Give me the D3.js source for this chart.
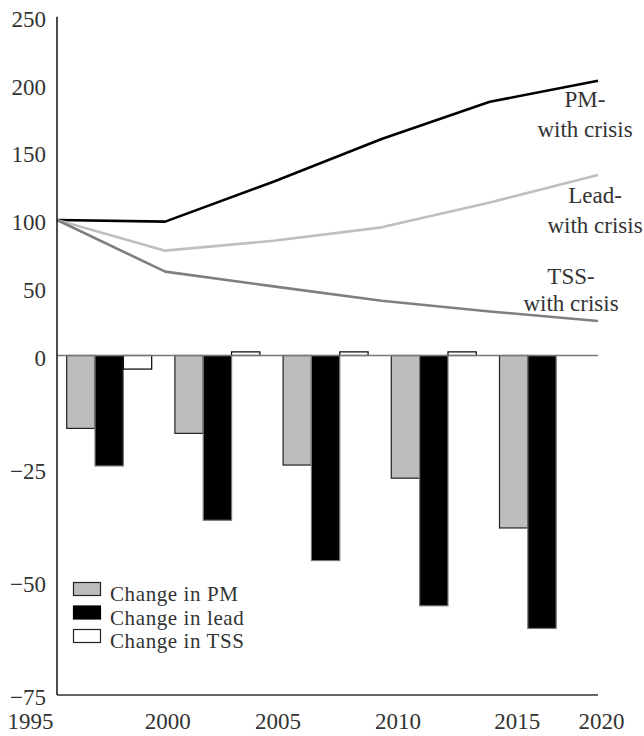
<!DOCTYPE html>
<html>
<head>
<meta charset="utf-8">
<script src="https://cdn.jsdelivr.net/npm/d3@7/dist/d3.min.js"></script>
<style>
  html, body { margin: 0; padding: 0; background: #fff; }
  svg { display: block; }
  text { font-family: "Liberation Serif", "DejaVu Serif", serif; fill: #333; }
</style>
</head>
<body>
<svg id="chart" width="644" height="736"></svg>
<script>
// ---- data ----
const years = [1995, 2000, 2005, 2010, 2015, 2020];
const pmWithCrisis   = [100, 98.8, 128.3, 159.8, 187.3, 202.8];
const leadWithCrisis = [100, 77.4, 84.7, 94.6, 113, 133.2];
const tssWithCrisis  = [100, 61.9, 51, 40.4, 32.5, 25.5];

const periods = [1995, 2000, 2005, 2010, 2015];
const changePM   = [-16.1, -17.2, -24.2, -27.1, -38.1];
const changeLead = [-24.4, -36.4, -45.3, -55.3, -60.3];
const changeTSS  = [-3.0, 0.8, 0.8, 0.8, 0];

const topTicks = [0, 50, 100, 150, 200, 250];
const bottomTicks = [-25, -50, -75];
const xTicks = [1995, 2000, 2005, 2010, 2015, 2020];

const lineLabels = [
  ["PM-", "with crisis"],
  ["Lead-", "with crisis"],
  ["TSS-", "with crisis"]
];
const legendLabels = ["Change in PM", "Change in lead", "Change in TSS"];

// ---- scales ----
const FONT = '"Liberation Serif", "DejaVu Serif", serif';
const svg = d3.select("#chart");
const x = d3.scaleLinear().domain([1995, 2020]).range([57, 598]);
const yTop = d3.scaleLinear().domain([0, 250]).range([355.5, 16.8]);
const yBot = d3.scaleLinear().domain([-75, 0]).range([695, 355.5]);

const x0 = d3.scaleBand().domain(periods).range([x(1995), x(2020)]).padding(0);
const seriesKeys = ["pm", "lead", "tss"];
const x1 = d3.scaleBand().domain(seriesKeys).range([9.7, 94.7]).padding(0);

const barStyles = {
  pm:   { fill: "#bdbdbd", stroke: "#222" },
  lead: { fill: "#000",    stroke: "#777" },
  tss:  { fill: "#fff",    stroke: "#000" }
};
const barData = [];
periods.forEach((p, i) => {
  barData.push({ p, k: "pm", v: changePM[i] });
  barData.push({ p, k: "lead", v: changeLead[i] });
  barData.push({ p, k: "tss", v: changeTSS[i] });
});

// ---- bars ----
svg.append("g").selectAll("rect")
  .data(barData.filter(d => d.v !== 0))
  .join("rect")
  .attr("x", d => x0(d.p) + x1(d.k))
  .attr("width", x1.bandwidth())
  .attr("y", d => Math.min(yBot(d.v), yBot(0)))
  .attr("height", d => Math.abs(yBot(d.v) - yBot(0)))
  .attr("fill", d => barStyles[d.k].fill)
  .attr("stroke", d => barStyles[d.k].stroke)
  .attr("stroke-width", 1.2);

// zero line
svg.append("line")
  .attr("x1", x(1995)).attr("x2", x(2020))
  .attr("y1", yTop(0)).attr("y2", yTop(0))
  .attr("stroke", "#777").attr("stroke-width", 1.5);

// ---- lines ----
const lineGen = arr => d3.line().x((d, i) => x(years[i])).y(d => yTop(d))(arr);
const lineSeries = [
  { vals: pmWithCrisis, color: "#000" },
  { vals: leadWithCrisis, color: "#bfbfbf" },
  { vals: tssWithCrisis, color: "#7f7f7f" }
];
svg.append("g").selectAll("path")
  .data(lineSeries)
  .join("path")
  .attr("d", d => lineGen(d.vals))
  .attr("fill", "none")
  .attr("stroke", d => d.color)
  .attr("stroke-width", 2.6)
  .attr("stroke-linejoin", "round");

// ---- axes ----
svg.append("line")
  .attr("x1", x(1995)).attr("x2", x(1995))
  .attr("y1", yTop(250)).attr("y2", yBot(-75))
  .attr("stroke", "#111").attr("stroke-width", 1.5);
svg.append("line")
  .attr("x1", x(1995)).attr("x2", x(2020))
  .attr("y1", yBot(-75)).attr("y2", yBot(-75))
  .attr("stroke", "#333").attr("stroke-width", 1.5);

const fmtMinus = v => v < 0 ? "\u2212" + Math.abs(v) : String(v);
const yAxisTop = d3.axisLeft(yTop).tickValues(topTicks).tickSize(0).tickPadding(11).tickFormat(fmtMinus);
const yAxisBot = d3.axisLeft(yBot).tickValues(bottomTicks).tickSize(0).tickPadding(11).tickFormat(fmtMinus);
const gTop = svg.append("g").attr("transform", `translate(${x(1995)},0)`).call(yAxisTop);
const gBot = svg.append("g").attr("transform", `translate(${x(1995)},0)`).call(yAxisBot);
[gTop, gBot].forEach(g => {
  g.attr("font-family", FONT).attr("font-size", 23);
  g.select(".domain").remove();
  g.selectAll("text")
    .style("font-family", FONT)
    .style("font-size", "23px")
    .attr("fill", "#333")
    .attr("dy", "0.42em");
});

// tick-label nudges to follow the reference's hand placement
const xLabelNudge = { 1995: -27, 2000: 2, 2005: 4, 2010: 16, 2015: 27, 2020: 3 };
const xAxis = d3.axisBottom(x).tickValues(xTicks).tickSize(0).tickPadding(18).tickFormat(d3.format("d"));
const gx = svg.append("g").attr("transform", `translate(0,${yBot(-75)})`).call(xAxis);
gx.attr("font-family", FONT).attr("font-size", 23);
gx.select(".domain").remove();
gx.selectAll("text")
  .style("font-family", FONT)
  .style("font-size", "23px")
  .attr("fill", "#333")
  .attr("dx", d => xLabelNudge[d]);

// ---- line labels ----
const labelPos = [
  { cx: 585, y1: 107, y2: 137 },
  { cx: 595, y1: 203, y2: 233 },
  { cx: 571, y1: 284, y2: 311 }
];
lineLabels.forEach((lbl, i) => {
  const t = svg.append("text")
    .attr("text-anchor", "middle")
    .style("font-family", FONT)
    .style("font-size", "23px");
  t.append("tspan").attr("x", labelPos[i].cx).attr("y", labelPos[i].y1).text(lbl[0]);
  t.append("tspan").attr("x", labelPos[i].cx).attr("y", labelPos[i].y2).text(lbl[1]);
});

// ---- legend ----
const legend = svg.append("g").attr("transform", "translate(73,582)");
const legKeys = ["pm", "lead", "tss"];
legendLabels.forEach((lbl, i) => {
  const g = legend.append("g").attr("transform", `translate(0,${i * 23.5})`);
  g.append("rect")
    .attr("x", 0.5).attr("y", 0.5).attr("width", 27).attr("height", 13)
    .attr("fill", barStyles[legKeys[i]].fill)
    .attr("stroke", i === 1 ? "#000" : "#222")
    .attr("stroke-width", 1.2);
  g.append("text")
    .attr("x", 37).attr("y", 19)
    .style("font-family", FONT)
    .style("font-size", "21px")
    .style("letter-spacing", "0.6px")
    .text(lbl);
});
</script>
</body>
</html>
